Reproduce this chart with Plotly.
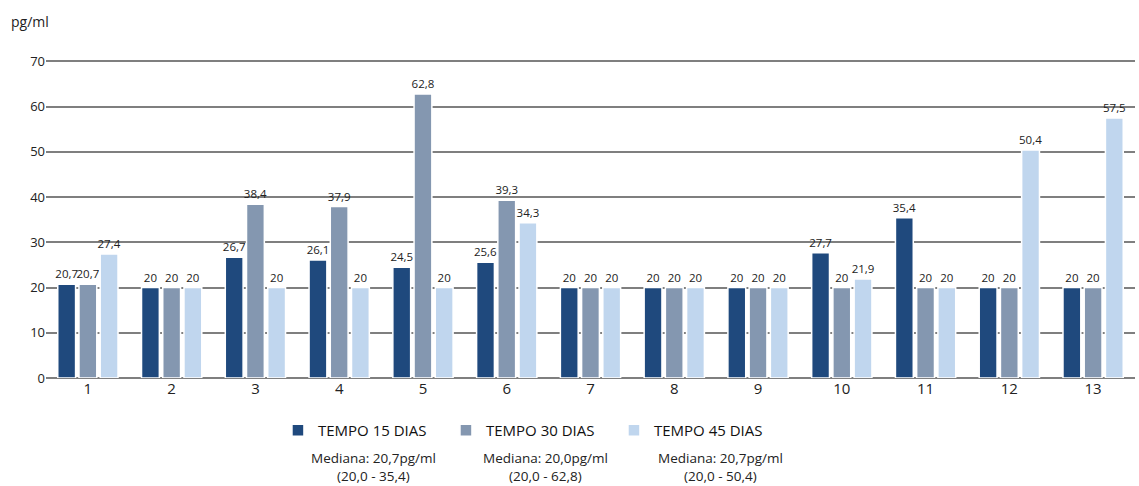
import plotly.graph_objects as go

# Sample index on the x axis
categories = [str(i) for i in range(1, 14)]

# Concentration (pg/ml) per sample at each time point
tempo_15 = [20.7, 20, 26.7, 26.1, 24.5, 25.6, 20, 20, 20, 27.7, 35.4, 20, 20]
tempo_30 = [20.7, 20, 38.4, 37.9, 62.8, 39.3, 20, 20, 20, 20, 20, 20, 20]
tempo_45 = [27.4, 20, 20, 20, 20, 34.3, 20, 20, 20, 21.9, 20, 50.4, 57.5]

series_names = ["TEMPO 15 DIAS", "TEMPO 30 DIAS", "TEMPO 45 DIAS"]
series_colors = ["#1f497d", "#8497b0", "#c0d6ee"]
median_notes = [
    "Mediana: 20,7pg/ml<br>(20,0 - 35,4)",
    "Mediana: 20,0pg/ml<br>(20,0 - 62,8)",
    "Mediana: 20,7pg/ml<br>(20,0 - 50,4)",
]

y_ticks = [0, 10, 20, 30, 40, 50, 60, 70]

FONT = "Open Sans"

fig = go.Figure()
for name, vals, col in zip(series_names, [tempo_15, tempo_30, tempo_45], series_colors):
    fig.add_trace(go.Bar(
        x=categories, y=vals, name=name,
        marker=dict(color=col, line=dict(color="white", width=1.5)),
        texttemplate="%{y}", textposition="outside", constraintext="none",
        textfont=dict(size=11.5, color="#222222", family=FONT),
        cliponaxis=False,
    ))

fig.update_layout(
    width=1139, height=486,
    margin=dict(l=46, r=4, t=60, b=108),
    paper_bgcolor="white", plot_bgcolor="white",
    barmode="group", bargap=0.24, bargroupgap=0.16,
    separators=", ",
    font=dict(family=FONT, color="#222222"),
    showlegend=True,
    legend=dict(
        orientation="h", x=0.213, xanchor="left", y=-0.165, yanchor="middle",
        font=dict(size=15, color="#111111", family=FONT),
        entrywidth=123, entrywidthmode="pixels",
        itemwidth=30, tracegroupgap=0,
        bgcolor="rgba(0,0,0,0)",
    ),
    xaxis=dict(
        type="category", showgrid=False, zeroline=False, showline=False,
        ticks="", tickfont=dict(size=15, color="#222222"),
    ),
    yaxis=dict(
        range=[0, 70.3], tickvals=y_ticks, showgrid=True,
        gridcolor="#7f7f7f", gridwidth=1.5,
        zeroline=True, zerolinecolor="#7f7f7f", zerolinewidth=1.5,
        showline=False, ticks="",
        tickfont=dict(size=13, color="#222222"),
    ),
)

fig.add_annotation(
    text="pg/ml", xref="paper", yref="paper", x=-0.034, y=1.12,
    xanchor="left", yanchor="middle", showarrow=False,
    font=dict(size=14, color="#222222", family=FONT),
)

note_x = [373, 545, 720]
for px, note in zip(note_x, median_notes):
    fig.add_annotation(
        text=note, xref="paper", yref="paper",
        x=(px - 46) / 1089, y=(378 - 467) / 318,
        xanchor="center", yanchor="middle", showarrow=False, align="center",
        font=dict(size=13.5, color="#222222", family=FONT),
    )

fig.write_html("out.html")
